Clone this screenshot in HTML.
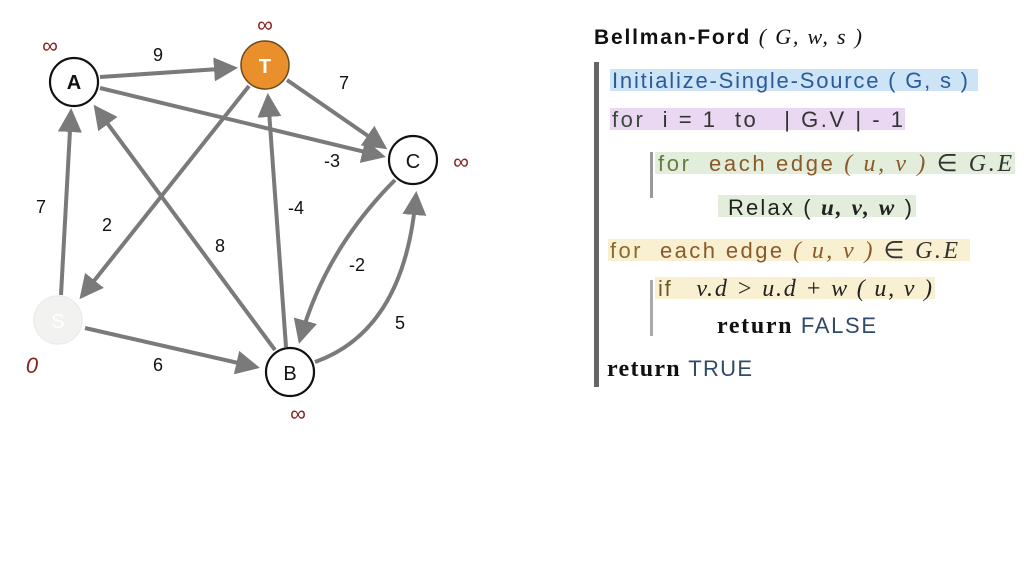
<!DOCTYPE html>
<html><head><meta charset="utf-8"><style>
html,body{margin:0;padding:0;background:#fff;}
svg{display:block}
text{white-space:pre}
.s{font-family:"Liberation Sans",sans-serif;}
.r{font-family:"Liberation Serif",serif;}
</style></head><body>
<svg width="1024" height="576" viewBox="0 0 1024 576" xmlns="http://www.w3.org/2000/svg" xml:space="preserve">
<defs>
<marker id="ah" markerWidth="6" markerHeight="6" refX="5" refY="3" orient="auto" markerUnits="strokeWidth">
<path d="M0,0 L6,3 L0,6 Z" fill="#7a7a7a"/>
</marker>
</defs>
<g stroke="#7a7a7a" stroke-width="4" fill="none" marker-end="url(#ah)">
<line x1="100" y1="77" x2="234" y2="68"/>
<line x1="100" y1="88" x2="382" y2="156"/>
<line x1="287" y1="80" x2="384" y2="147"/>
<line x1="249" y1="86" x2="82" y2="296"/>
<line x1="61" y1="295" x2="71" y2="112"/>
<line x1="85" y1="328" x2="256" y2="367"/>
<line x1="275" y1="350" x2="96" y2="108"/>
<line x1="286" y1="347" x2="268" y2="97"/>
<path d="M395,180 Q325,250 300,340"/>
<path d="M315,362 Q405,330 416,195"/>
</g>
<g stroke="#111" stroke-width="2.2" fill="#fff">
<circle cx="74" cy="82" r="24"/>
<circle cx="413" cy="160" r="24"/>
<circle cx="290" cy="372" r="24"/>
</g>
<circle cx="265" cy="65" r="24" fill="#e98f2c" stroke="#6a4a20" stroke-width="1.5"/>
<circle cx="58" cy="320" r="24" fill="#f2f2f0" stroke="#ececec" stroke-width="1.5"/>
<g class="s" font-size="20" text-anchor="middle" fill="#111">
<text x="74" y="89" font-weight="bold">A</text>
<text x="265" y="73" font-weight="bold" fill="#fff">T</text>
<text x="413" y="168">C</text>
<text x="290" y="380">B</text>
<text x="58" y="328" fill="#fff">S</text>
</g>
<g class="s" font-size="18" fill="#111" text-anchor="middle">
<text x="158" y="61">9</text>
<text x="344" y="89">7</text>
<text x="332" y="167">-3</text>
<text x="41" y="213">7</text>
<text x="107" y="231">2</text>
<text x="220" y="252">8</text>
<text x="296" y="214">-4</text>
<text x="357" y="271">-2</text>
<text x="400" y="329">5</text>
<text x="158" y="371">6</text>
</g>
<g class="s" font-size="22" fill="#8b2020" text-anchor="middle">
<text x="50" y="53">∞</text>
<text x="265" y="32">∞</text>
<text x="461" y="169">∞</text>
<text x="298" y="421">∞</text>
<text x="32" y="373" font-style="italic">0</text>
</g>
<rect x="594" y="62" width="5" height="325" fill="#666"/>
<rect x="650" y="152" width="3" height="46" fill="#999"/>
<rect x="650" y="280" width="3" height="56" fill="#aaa"/>
<rect x="610" y="69" width="368" height="22" fill="#cde4f6"/>
<rect x="610" y="108" width="295" height="22" fill="#ead8f2"/>
<rect x="655" y="152" width="360" height="22" fill="#e2eedb"/>
<rect x="718" y="195" width="198" height="22" fill="#e2eedb"/>
<rect x="608" y="239" width="362" height="22" fill="#f9f0d2"/>
<rect x="655" y="277" width="280" height="22" fill="#f9f0d2"/>
<text x="594" y="44" class="s" font-size="21" font-weight="bold" fill="#111" textLength="268" lengthAdjust="spacing">Bellman-Ford <tspan class="r" font-weight="normal" font-style="italic" font-size="22">( G, w, s )</tspan></text>
<text x="612" y="88" class="s" font-size="22" fill="#2a5a9a" textLength="356" lengthAdjust="spacing">Initialize-Single-Source ( G, s )</text>
<text x="612" y="127" class="s" font-size="22" fill="#333" textLength="291" lengthAdjust="spacing"><tspan fill="#3a4a3a">for</tspan>  i = 1  to   | G.V | - 1</text>
<text x="658" y="171" class="s" font-size="22" fill="#8a5a2a" textLength="354" lengthAdjust="spacing"><tspan fill="#6a7a40">for</tspan>  each edge <tspan class="r" font-style="italic" font-size="24">( u, v )</tspan> <tspan class="r" font-size="24" fill="#333">∈ <tspan font-style="italic">G.E</tspan></tspan></text>
<text x="728" y="215" class="s" font-size="22" fill="#222" textLength="184" lengthAdjust="spacing">Relax ( <tspan class="r" font-weight="bold" font-style="italic" font-size="23">u, v, w</tspan> )</text>
<text x="610" y="258" class="s" font-size="22" fill="#8a5a2a" textLength="348" lengthAdjust="spacing"><tspan fill="#8a6a2a">for</tspan>  each edge <tspan class="r" font-style="italic" font-size="24">( u, v )</tspan> <tspan class="r" font-size="24" fill="#333">∈ <tspan font-style="italic">G.E</tspan></tspan></text>
<text x="658" y="296" class="s" font-size="22" fill="#6a5a2a" textLength="274" lengthAdjust="spacing">if   <tspan class="r" font-style="italic" font-size="24" fill="#222">v.d &gt; u.d + w ( u, v )</tspan></text>
<text x="717" y="333" class="r" font-size="24" font-weight="bold" fill="#111" textLength="159" lengthAdjust="spacing">return <tspan class="s" font-weight="normal" font-size="22" fill="#2f4a6a">FALSE</tspan></text>
<text x="607" y="376" class="r" font-size="24" font-weight="bold" fill="#111" textLength="145" lengthAdjust="spacing">return <tspan class="s" font-weight="normal" font-size="22" fill="#2f4a6a">TRUE</tspan></text>
</svg>
</body></html>
